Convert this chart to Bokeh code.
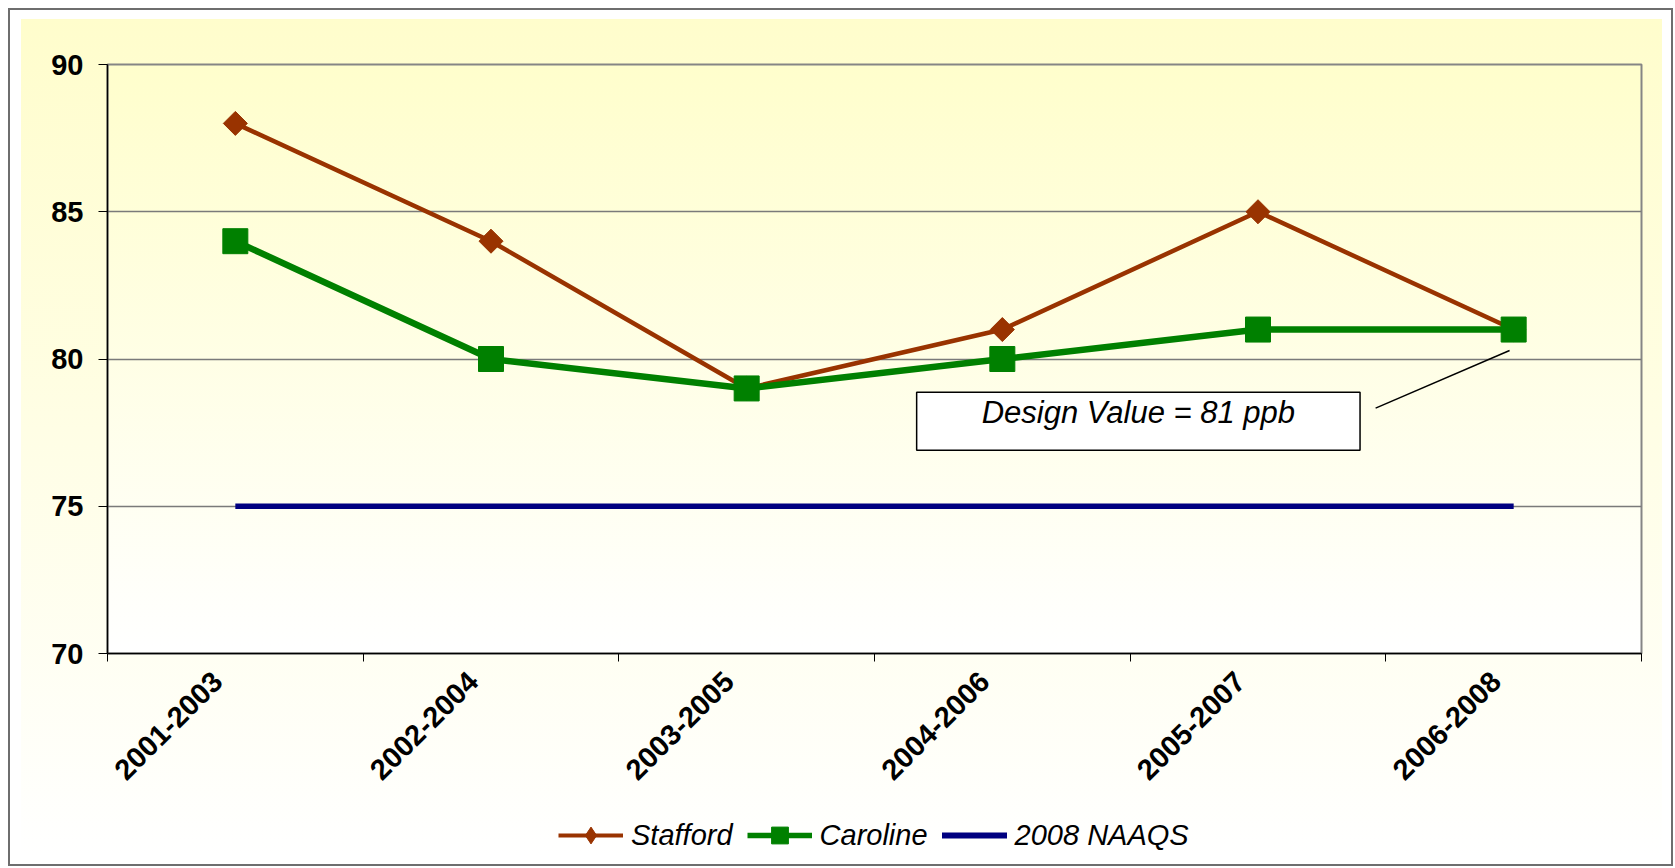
import math
import numpy as np
from bokeh.plotting import figure
from bokeh.models import (ColumnDataSource, Range1d, FixedTicker, Legend, LegendItem, Label)
from bokeh.layouts import column
from bokeh.embed import file_html
from bokeh.resources import INLINE

# ---- data ----
periods = ["2001-2003", "2002-2004", "2003-2005", "2004-2006", "2005-2007", "2006-2008"]
stafford = [88, 84, 79, 81, 85, 81]
caroline = [84, 80, 79, 80, 81, 81]
naaqs = [75, 75, 75, 75, 75, 75]
y_ticks = [70, 75, 80, 85, 90]
series_names = ["Stafford", "Caroline", "2008 NAAQS"]
annotation_text = "Design Value = 81 ppb"

FONT = "Liberation Sans"
ST_COL = "#993300"
CA_COL = "#008000"
NA_COL = "#000080"

xpos = np.arange(len(periods)) + 0.5
src = ColumnDataSource(dict(x=xpos, stafford=stafford, caroline=caroline, naaqs=naaqs))

FIG_W = 1641
B_LEFT, B_RIGHT, B_TOP, B_BOTTOM = 86, 21, 45, 160
FIG_H = 794

p = figure(width=FIG_W, height=FIG_H,
           x_range=Range1d(0, len(periods)), y_range=Range1d(70, 90),
           output_backend="svg", toolbar_location=None,
           min_border_left=B_LEFT, min_border_right=B_RIGHT,
           min_border_top=B_TOP, min_border_bottom=B_BOTTOM)
p.border_fill_color = None
p.background_fill_color = None
p.outline_line_color = "#858585"
p.outline_line_width = 2
frame_w = FIG_W - B_LEFT - B_RIGHT
frame_h = FIG_H - B_TOP - B_BOTTOM
p.styles = {"background": f"linear-gradient(180deg, #FFFECC 0%, #FFFFFF 100%) "
                          f"{B_LEFT}px {B_TOP}px / {frame_w}px {frame_h}px no-repeat"}

# grid
p.xgrid.grid_line_color = None
p.ygrid.grid_line_color = "#7a7a7a"
p.ygrid.grid_line_width = 1.5
p.ygrid.ticker = FixedTicker(ticks=y_ticks)

# y axis
p.yaxis.ticker = FixedTicker(ticks=y_ticks)
p.yaxis.axis_line_color = "black"
p.yaxis.axis_line_width = 1.5
p.yaxis.major_tick_in = 0
p.yaxis.major_tick_out = 9
p.yaxis.major_tick_line_color = "black"
p.yaxis.minor_tick_line_color = None
p.yaxis.major_label_standoff = 15
p.yaxis.major_label_text_font = FONT
p.yaxis.major_label_text_font_style = "bold"
p.yaxis.major_label_text_font_size = "29px"
p.yaxis.major_label_text_color = "black"

# x axis: labels near category centres, ticks at category boundaries
label_pos = list(xpos - 0.07)
p.xaxis.ticker = FixedTicker(ticks=label_pos, minor_ticks=list(range(len(periods) + 1)))
p.xaxis.major_label_overrides = {float(v): lab for v, lab in zip(label_pos, periods)}
p.xaxis.axis_line_color = "black"
p.xaxis.axis_line_width = 1.5
p.xaxis.major_tick_line_color = None
p.xaxis.minor_tick_in = 0
p.xaxis.minor_tick_out = 8
p.xaxis.minor_tick_line_color = "black"
p.xaxis.major_label_orientation = math.pi / 4
p.xaxis.major_label_standoff = 15
p.xaxis.major_label_text_font = FONT
p.xaxis.major_label_text_font_style = "bold"
p.xaxis.major_label_text_font_size = "29px"
p.xaxis.major_label_text_color = "black"

# series
p.line("x", "naaqs", source=src, line_color=NA_COL, line_width=5.5)
p.line("x", "stafford", source=src, line_color=ST_COL, line_width=4.5)
p.scatter("x", "stafford", source=src, marker="square", angle=math.pi / 4,
          size=17, fill_color=ST_COL, line_color=ST_COL)
p.line("x", "caroline", source=src, line_color=CA_COL, line_width=6.5)
p.scatter("x", "caroline", source=src, marker="square", size=25,
          fill_color=CA_COL, line_color=CA_COL)

# annotation
lbl = Label(x=4.032, y=77.89, text=annotation_text, text_align="center", text_baseline="middle",
            text_font=FONT, text_font_style="italic", text_font_size="31px", text_color="black",
            background_fill_color="white", border_line_color="black", border_line_width=1.5,
            padding=dict(top=3, right=65, bottom=20, left=65))
p.add_layout(lbl)
p.segment(x0=[4.96], y0=[78.33], x1=[5.484], y1=[80.29], line_color="black", line_width=1.5)

# ---- legend strip (glyphs kept outside its visible range; only the legend shows) ----
pl = figure(width=FIG_W, height=44, x_range=Range1d(0, len(periods)), y_range=Range1d(0, 1),
            output_backend="svg", toolbar_location=None,
            x_axis_location=None, y_axis_location=None,
            min_border_left=0, min_border_right=0, min_border_top=0, min_border_bottom=0)
pl.border_fill_color = None
pl.background_fill_color = None
pl.outline_line_color = None
pl.grid.visible = False

l_st = pl.line("x", "stafford", source=src, line_color=ST_COL, line_width=4)
m_st = pl.scatter("x", "stafford", source=src, marker="diamond", size=17,
                  fill_color=ST_COL, line_color=ST_COL)
l_ca = pl.line("x", "caroline", source=src, line_color=CA_COL, line_width=5.5)
m_ca = pl.scatter("x", "caroline", source=src, marker="square", size=16,
                  fill_color=CA_COL, line_color=CA_COL)
l_na = pl.line("x", "naaqs", source=src, line_color=NA_COL, line_width=6, line_cap="round")

legend = Legend(items=[
    LegendItem(label=series_names[0], renderers=[l_st, m_st]),
    LegendItem(label=series_names[1], renderers=[l_ca, m_ca]),
    LegendItem(label=series_names[2], renderers=[l_na]),
], orientation="horizontal", location=(451, 1))
legend.label_text_font = FONT
legend.label_text_font_style = "italic"
legend.label_text_font_size = "29px"
legend.label_text_color = "black"
legend.glyph_width = 65
legend.glyph_height = 42
legend.label_height = 42
legend.label_standoff = 8
legend.spacing = 14
legend.padding = 0
legend.margin = 0
legend.border_line_color = None
legend.background_fill_color = None
pl.add_layout(legend)

layout = column(p, pl, spacing=0, styles={
    "margin": "8px 0 0 8px",
    "border": "2px solid #6e6e6e",
    "padding": "9px 9px 7px 11px",
    "background": "linear-gradient(180deg, #FFFDCC 0%, #FFFFFF 100%) content-box, #FFFFFF",
})

open("out.html", "w").write(file_html(layout, INLINE))
